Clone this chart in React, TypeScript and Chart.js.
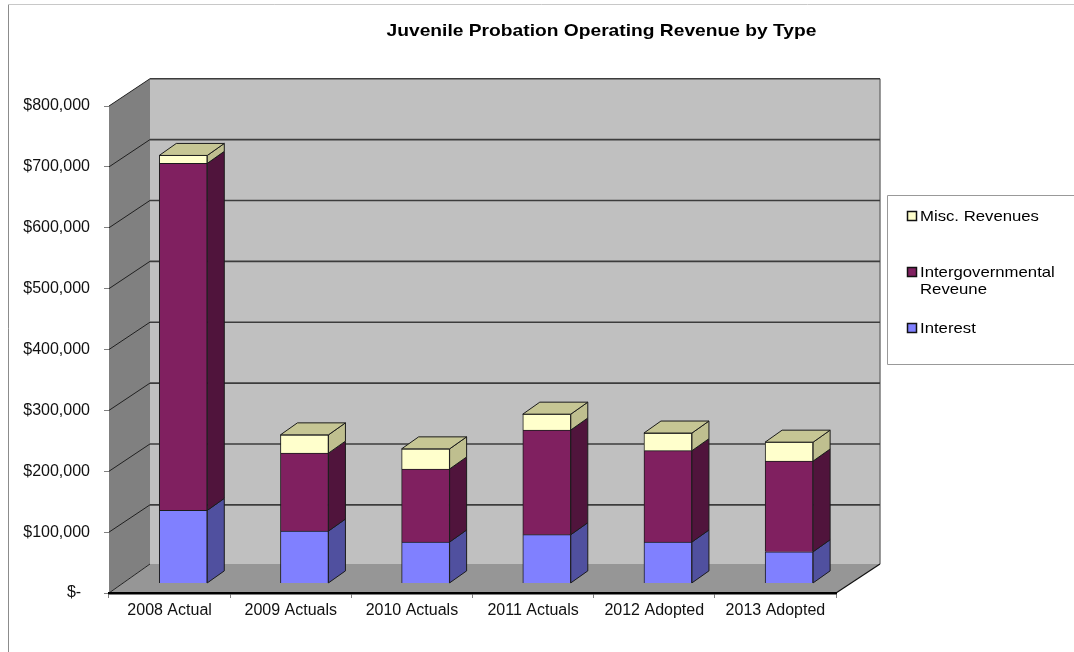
import React, { useEffect, useRef } from "react";
import { Chart, registerables } from "chart.js";

Chart.register(...registerables);

const chartTitle = "Juvenile Probation Operating Revenue by Type";
const categories = ["2008 Actual", "2009 Actuals", "2010 Actuals", "2011 Actuals", "2012 Adopted", "2013 Adopted"];
const interest = [120000, 86000, 68000, 80000, 68000, 52000];
const intergovernmental = [570000, 128000, 120000, 172000, 150000, 149000];
const misc = [13000, 30000, 33000, 26000, 29000, 31000];
const FONT = '"Liberation Sans", Arial, sans-serif';
const legendRows = [
  { lines: ["Misc. Revenues"], color: "#FFFFCC", y: 216 },
  { lines: ["Intergovernmental", "Reveune"], color: "#802060", y: 272 },
  { lines: ["Interest"], color: "#8080FF", y: 328 },
];

const WALL_DX = 41;
const WALL_DX_RIGHT = 44;
const WALL_DY = -27.3;
const FLOOR_DY = -29;
const BAR_SHIFT_X = 13.7;
const BAR_SHIFT_Y = -9.6;
const BAR_DX = 17;
const BAR_DY = -12;

const poly = (ctx: CanvasRenderingContext2D, pts: number[][], fill: string | null, stroke?: string, lw = 1) => {
  ctx.beginPath();
  pts.forEach(([x, y], i) => (i ? ctx.lineTo(x, y) : ctx.moveTo(x, y)));
  ctx.closePath();
  if (fill) {
    ctx.fillStyle = fill;
    ctx.fill();
  }
  if (stroke) {
    ctx.strokeStyle = stroke;
    ctx.lineWidth = lw;
    ctx.stroke();
  }
};

const line = (ctx: CanvasRenderingContext2D, pts: number[][], stroke: string, lw: number) => {
  ctx.beginPath();
  pts.forEach(([x, y], i) => (i ? ctx.lineTo(x, y) : ctx.moveTo(x, y)));
  ctx.strokeStyle = stroke;
  ctx.lineWidth = lw;
  ctx.stroke();
};

const stretched = (ctx: CanvasRenderingContext2D, text: string, x: number, y: number, k: number) => {
  ctx.save();
  ctx.translate(x, y);
  ctx.scale(k, 1);
  ctx.fillText(text, 0, 0);
  ctx.restore();
};

const sideColors = ["#50509F", "#50143C", "#BFBF8F"];
const topColor = "#C6C694";

const depthPlugin = {
  id: "depth",
  beforeDraw(chart: any) {
    const { ctx, chartArea: a, scales } = chart;
    const y = scales.y;
    const L = a.left, R = a.right, B = a.bottom, T = y.getPixelForValue(800000);
    const bL = L + WALL_DX, bR = R + WALL_DX_RIGHT, bB = B + FLOOR_DY, bT = T + WALL_DY;
    ctx.save();
    // frame
    line(ctx, [[8.5, 652], [8.5, 4.5]], "#8c8c8c", 1);
    line(ctx, [[8.5, 4.5], [1074, 4.5]], "#c8c8c8", 1);
    // walls
    poly(ctx, [[bL, bT], [bR, bT], [bR, bB], [bL, bB]], "#C0C0C0");
    poly(ctx, [[L, B], [bL, bB], [bL, bT], [L, T]], "#808080");
    poly(ctx, [[L, B], [bL, bB], [bR, bB], [R, B]], "#969696");
    line(ctx, [[bR, bT], [bR, bB]], "#777777", 1.5);
    // gridlines
    y.ticks.forEach((t: any) => {
      const py = y.getPixelForValue(t.value);
      if (t.value === 0) return;
      line(ctx, [[L, py], [bL, py + WALL_DY]], "#202020", 1);
      line(ctx, [[bL, py + WALL_DY], [bR, py + WALL_DY]], "#3c3c3c", 1.6);
    });
    line(ctx, [[L, B], [bL, bB]], "#222222", 1);
    line(ctx, [[R, B], [bR, bB]], "#111111", 1.2);
    ctx.restore();
  },
  beforeDatasetsDraw(chart: any) {
    chart.ctx.save();
    chart.ctx.translate(BAR_SHIFT_X, BAR_SHIFT_Y);
  },
  afterDatasetsDraw(chart: any) {
    const { ctx } = chart;
    const n = chart.data.datasets.length;
    chart.data.datasets.forEach((_: any, di: number) => {
      chart.getDatasetMeta(di).data.forEach((bar: any) => {
        const { x, y, base, width } = bar.getProps(["x", "y", "base", "width"], true);
        const r = x + width / 2;
        const l = x - width / 2;
        poly(ctx, [[r, y], [r + BAR_DX, y + BAR_DY], [r + BAR_DX, base + BAR_DY], [r, base]], sideColors[di], "#1c1c1c", 1);
        if (di === n - 1) {
          poly(ctx, [[l, y], [l + BAR_DX, y + BAR_DY], [r + BAR_DX, y + BAR_DY], [r, y]], topColor, "#1c1c1c", 1);
        }
      });
    });
    ctx.restore();
  },
  afterDraw(chart: any) {
    const { ctx } = chart;
    ctx.save();
    ctx.textBaseline = "middle";
    ctx.textAlign = "center";
    ctx.fillStyle = "#000";
    ctx.font = `bold 17px ${FONT}`;
    stretched(ctx, chartTitle, 601.5, 31, 1.13);
    // legend
    ctx.fillStyle = "#fff";
    ctx.fillRect(888, 195, 186, 169);
    line(ctx, [[1074, 195.5], [887.5, 195.5], [887.5, 364.5], [1074, 364.5]], "#999999", 1);
    ctx.textAlign = "left";
    ctx.font = `15px ${FONT}`;
    legendRows.forEach((row) => {
      ctx.fillStyle = row.color;
      ctx.strokeStyle = "#111";
      ctx.lineWidth = 1.5;
      ctx.fillRect(907.5, row.y - 4.5, 9, 9);
      ctx.strokeRect(907.5, row.y - 4.5, 9, 9);
      ctx.fillStyle = "#000";
      row.lines.forEach((t, i) => stretched(ctx, t, 920, row.y + 1 + i * 17, 1.115));
    });
    ctx.restore();
  },
};

export default function App() {
  const ref = useRef<HTMLCanvasElement | null>(null);
  useEffect(() => {
    const mk = (label: string, data: number[], color: string) => ({
      label,
      data,
      backgroundColor: color,
      borderColor: "#1c1c1c",
      borderWidth: 1,
      barThickness: 48,
      clip: false as any,
    });
    const chart = new Chart(ref.current!, {
      type: "bar",
      data: {
        labels: categories,
        datasets: [
          mk("Interest", interest, "#8080FF"),
          mk("Intergovernmental Reveune", intergovernmental, "#802060"),
          mk("Misc. Revenues", misc, "#FFFFCC"),
        ],
      },
      options: {
        responsive: false,
        animation: false,
        layout: { padding: { top: 106, right: 238, bottom: 0, left: 0 } },
        plugins: { legend: { display: false }, title: { display: false }, tooltip: { enabled: false } },
        scales: {
          x: {
            stacked: true,
            afterFit: (s: any) => { s.height = 59; },
            grid: { drawOnChartArea: false, tickLength: 5, tickColor: "#808080", offset: true },
            border: { color: "#000", width: 2.5 },
            ticks: { color: "#111", padding: 3, maxRotation: 0, font: { family: FONT, size: 16 } },
          },
          y: {
            stacked: true,
            min: 0,
            max: 800000,
            afterFit: (s: any) => { s.width = 109; },
            grid: { drawOnChartArea: false, tickLength: 5, tickColor: "#808080" },
            border: { display: false },
            ticks: {
              stepSize: 100000,
              padding: 14,
              color: "#111",
              font: { family: FONT, size: 16 },
              callback: (v: any) => (v === 0 ? "$-  " : "$" + Number(v).toLocaleString("en-US")),
            },
          },
        },
      },
      plugins: [depthPlugin],
    } as any);
    return () => chart.destroy();
  }, []);
  return (
    <canvas
      ref={ref}
      width={1074}
      height={652}
      style={{ position: "absolute", left: 0, top: 0, display: "block", background: "#fff" }}
    />
  );
}
